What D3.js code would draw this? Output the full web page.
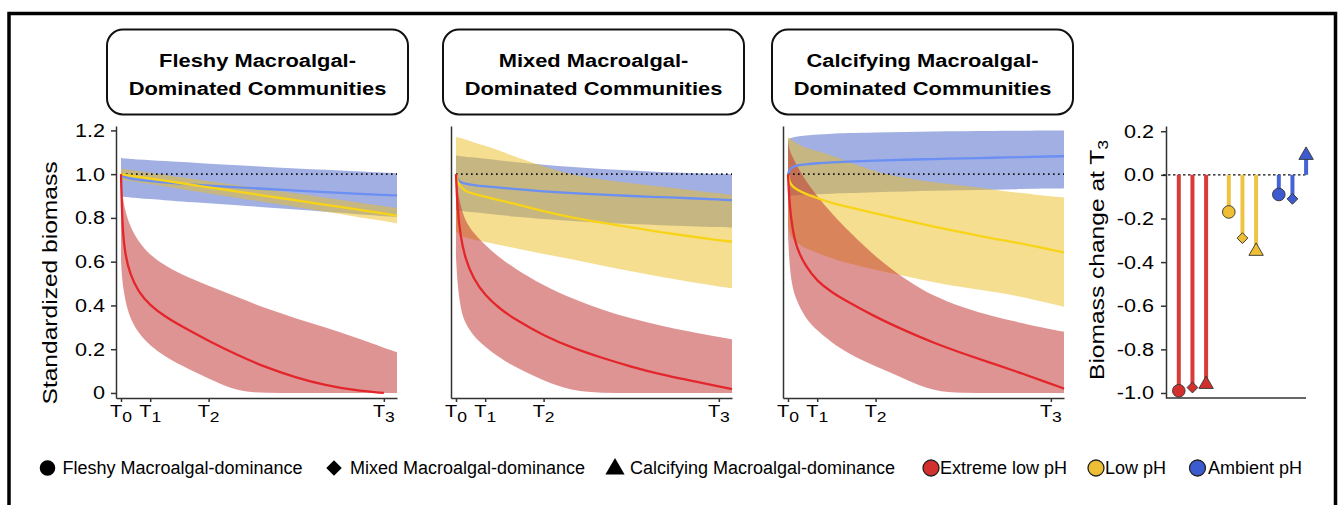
<!DOCTYPE html>
<html>
<head>
<meta charset="utf-8">
<script src="https://cdn.jsdelivr.net/npm/d3@7"></script>
<style>
  html, body { margin: 0; padding: 0; background: #fff; }
  svg { display: block; font-family: "Liberation Sans", Arial, Helvetica, sans-serif; }
</style>
</head>
<body>
<svg id="chart" width="1340" height="505"></svg>
<script>
// ---- time grid (T0 = 0, T1 = 1, T2 = 3, T3 = 9) ----
const TIME = [0, 0.05, 0.15, 0.3, 0.6, 1, 1.5, 2, 3, 4, 5, 6, 7, 8, 9, 9.45];
const T_TICKS = [0, 1, 3, 9];
const T_TICK_SUBS = ["0", "1", "2", "3"];
const Y_TICKS = [0, 0.2, 0.4, 0.6, 0.8, 1.0, 1.2];
const Y_TICK_LABELS = ["0", "0.2", "0.4", "0.6", "0.8", "1.0", "1.2"];
const CHANGE_TICKS = [0.2, 0, -0.2, -0.4, -0.6, -0.8, -1.0];
const CHANGE_TICK_LABELS = ["0.2", "0.0", "-0.2", "-0.4", "-0.6", "-0.8", "-1.0"];

const TREATMENTS = ["Extreme low pH", "Low pH", "Ambient pH"];
const COMMUNITIES = ["Fleshy Macroalgal-dominance", "Mixed Macroalgal-dominance", "Calcifying Macroalgal-dominance"];
const PANEL_TITLES = [
  ["Fleshy Macroalgal-", "Dominated Communities"],
  ["Mixed Macroalgal-", "Dominated Communities"],
  ["Calcifying Macroalgal-", "Dominated Communities"]
];

// ---- standardized biomass: fitted mean and confidence band ----
// Fleshy macroalgal-dominated communities
const FLESHY_EXT_MEAN = [1.0, 0.74, 0.63, 0.545, 0.46, 0.40, 0.35, 0.31, 0.238, 0.172, 0.115, 0.07, 0.035, 0.012, 0.0, null];
const FLESHY_EXT_LO   = [0.6, 0.5, 0.42, 0.345, 0.272, 0.215, 0.168, 0.13, 0.065, 0.005, 0, 0, 0, 0, 0, 0];
const FLESHY_EXT_HI   = [1.0, 0.9, 0.83, 0.765, 0.69, 0.63, 0.583, 0.545, 0.49, 0.437, 0.384, 0.34, 0.30, 0.255, 0.207, 0.186];
const FLESHY_LOW_MEAN = [1.0, 0.999, 0.997, 0.994, 0.988, 0.98, 0.97, 0.96, 0.94, 0.92, 0.9, 0.88, 0.86, 0.84, 0.82, 0.81];
const FLESHY_LOW_LO   = [0.975, 0.974, 0.972, 0.969, 0.962, 0.954, 0.943, 0.933, 0.912, 0.891, 0.87, 0.849, 0.828, 0.807, 0.786, 0.775];
const FLESHY_LOW_HI   = [1.025, 1.024, 1.022, 1.02, 1.014, 1.006, 0.996, 0.987, 0.968, 0.949, 0.93, 0.911, 0.892, 0.873, 0.854, 0.845];
const FLESHY_AMB_MEAN = [1.0, 0.99, 0.985, 0.98, 0.975, 0.968, 0.962, 0.956, 0.947, 0.94, 0.932, 0.925, 0.918, 0.911, 0.905, 0.903];
const FLESHY_AMB_LO   = [0.9, 0.898, 0.896, 0.894, 0.89, 0.886, 0.881, 0.876, 0.867, 0.858, 0.848, 0.838, 0.828, 0.818, 0.808, 0.805];
const FLESHY_AMB_HI   = [1.075, 1.073, 1.071, 1.07, 1.067, 1.064, 1.06, 1.056, 1.048, 1.04, 1.033, 1.026, 1.02, 1.013, 1.007, 1.005];

// Mixed macroalgal-dominated communities
const MIXED_EXT_MEAN = [1.0, 0.84, 0.72, 0.62, 0.52, 0.445, 0.385, 0.338, 0.262, 0.205, 0.16, 0.12, 0.085, 0.058, 0.03, 0.018];
const MIXED_EXT_LO   = [0.62, 0.5, 0.39, 0.32, 0.26, 0.21, 0.16, 0.12, 0.055, 0.008, 0, 0, 0, 0, 0, 0];
const MIXED_EXT_HI   = [1.0, 0.93, 0.86, 0.79, 0.73, 0.675, 0.617, 0.57, 0.49, 0.43, 0.38, 0.34, 0.307, 0.28, 0.255, 0.245];
const MIXED_LOW_MEAN = [1.0, 0.963, 0.945, 0.922, 0.91, 0.896, 0.88, 0.865, 0.83, 0.8, 0.778, 0.757, 0.735, 0.716, 0.698, 0.691];
const MIXED_LOW_LO   = [0.74, 0.73, 0.72, 0.71, 0.7, 0.69, 0.676, 0.662, 0.635, 0.61, 0.582, 0.556, 0.53, 0.508, 0.487, 0.478];
const MIXED_LOW_HI   = [1.17, 1.168, 1.165, 1.16, 1.145, 1.13, 1.108, 1.08, 1.035, 0.995, 0.975, 0.958, 0.943, 0.928, 0.912, 0.904];
const MIXED_AMB_MEAN = [1.0, 0.975, 0.963, 0.957, 0.95, 0.944, 0.938, 0.932, 0.921, 0.913, 0.906, 0.9, 0.895, 0.89, 0.884, 0.881];
const MIXED_AMB_LO   = [0.836, 0.835, 0.833, 0.83, 0.826, 0.82, 0.813, 0.806, 0.795, 0.786, 0.778, 0.772, 0.767, 0.762, 0.758, 0.756];
const MIXED_AMB_HI   = [1.085, 1.084, 1.082, 1.08, 1.076, 1.07, 1.063, 1.055, 1.043, 1.032, 1.024, 1.016, 1.01, 1.005, 1.001, 1.0];

// Calcifying macroalgal-dominated communities
const CALC_EXT_MEAN = [1.0, 0.86, 0.75, 0.66, 0.58, 0.51, 0.46, 0.42, 0.347, 0.285, 0.228, 0.18, 0.135, 0.09, 0.042, 0.02];
const CALC_EXT_LO   = [0.72, 0.58, 0.48, 0.42, 0.34, 0.285, 0.23, 0.185, 0.12, 0.065, 0.005, 0, 0, 0, 0, 0];
const CALC_EXT_HI   = [1.15, 1.11, 1.08, 1.04, 0.97, 0.9, 0.82, 0.75, 0.62, 0.52, 0.44, 0.39, 0.35, 0.32, 0.29, 0.28];
const CALC_LOW_MEAN = [1.0, 0.963, 0.945, 0.93, 0.91, 0.89, 0.868, 0.852, 0.82, 0.79, 0.76, 0.733, 0.706, 0.683, 0.654, 0.643];
const CALC_LOW_LO   = [0.76, 0.73, 0.705, 0.685, 0.66, 0.64, 0.615, 0.595, 0.562, 0.535, 0.505, 0.482, 0.463, 0.44, 0.408, 0.394];
const CALC_LOW_HI   = [1.17, 1.165, 1.155, 1.14, 1.12, 1.105, 1.085, 1.06, 1.01, 0.982, 0.962, 0.948, 0.93, 0.913, 0.898, 0.893];
const CALC_AMB_MEAN = [1.0, 1.02, 1.032, 1.04, 1.045, 1.05, 1.054, 1.057, 1.062, 1.066, 1.069, 1.072, 1.075, 1.078, 1.081, 1.082];
const CALC_AMB_LO   = [0.9, 0.9, 0.902, 0.904, 0.906, 0.908, 0.911, 0.913, 0.918, 0.921, 0.924, 0.927, 0.929, 0.932, 0.934, 0.935];
const CALC_AMB_HI   = [1.16, 1.163, 1.167, 1.172, 1.177, 1.181, 1.185, 1.188, 1.191, 1.193, 1.195, 1.196, 1.197, 1.198, 1.199, 1.2];

// ---- biomass change at T3 (fleshy, mixed, calcifying) ----
const CHANGE_EXTREME = [-0.99, -0.975, -0.96];
const CHANGE_LOW = [-0.17, -0.29, -0.35];
const CHANGE_AMBIENT = [-0.09, -0.11, 0.09];

// ---- styling ----
const RIBBON = { "Extreme low pH": "#c02a2a", "Low pH": "#ecbd1f", "Ambient pH": "#4460c8" };
const LINE = { "Extreme low pH": "#e3262b", "Low pH": "#f7d417", "Ambient pH": "#6b8ff2" };
const POINT = { "Extreme low pH": "#d42f2f", "Low pH": "#eebf35", "Ambient pH": "#3d5bd0" };
const STEM = { "Extreme low pH": "#d93a3a", "Low pH": "#efc443", "Ambient pH": "#4563d4" };
const SHAPES = [d3.symbolCircle, d3.symbolSquare, d3.symbolTriangle];
const SX = 1.17;            // glyph width factor for figure text
const AXIS_COLOR = "#333";

const panels = [
  { title: PANEL_TITLES[0], series: [
    { t: "Ambient pH", mean: FLESHY_AMB_MEAN, lo: FLESHY_AMB_LO, hi: FLESHY_AMB_HI },
    { t: "Low pH", mean: FLESHY_LOW_MEAN, lo: FLESHY_LOW_LO, hi: FLESHY_LOW_HI },
    { t: "Extreme low pH", mean: FLESHY_EXT_MEAN, lo: FLESHY_EXT_LO, hi: FLESHY_EXT_HI } ] },
  { title: PANEL_TITLES[1], series: [
    { t: "Ambient pH", mean: MIXED_AMB_MEAN, lo: MIXED_AMB_LO, hi: MIXED_AMB_HI },
    { t: "Low pH", mean: MIXED_LOW_MEAN, lo: MIXED_LOW_LO, hi: MIXED_LOW_HI },
    { t: "Extreme low pH", mean: MIXED_EXT_MEAN, lo: MIXED_EXT_LO, hi: MIXED_EXT_HI } ] },
  { title: PANEL_TITLES[2], series: [
    { t: "Ambient pH", mean: CALC_AMB_MEAN, lo: CALC_AMB_LO, hi: CALC_AMB_HI },
    { t: "Low pH", mean: CALC_LOW_MEAN, lo: CALC_LOW_LO, hi: CALC_LOW_HI },
    { t: "Extreme low pH", mean: CALC_EXT_MEAN, lo: CALC_EXT_LO, hi: CALC_EXT_HI } ] }
];

const svg = d3.select("#chart");

// outer frame
svg.append("rect")
  .attr("x", 9).attr("y", 13.5).attr("width", 1326.5).attr("height", 600)
  .attr("fill", "none").attr("stroke", "#000").attr("stroke-width", 3.5);

// text helper: places a label and widens glyphs along the reading direction
function txt(g, x, y, str, o = {}) {
  return g.append("text")
    .attr("transform", `translate(${x},${y})${o.rotate ? ` rotate(${o.rotate})` : ""} scale(${o.sx ?? SX},1)`)
    .attr("text-anchor", o.anchor || "middle")
    .attr("font-size", o.size || 18)
    .attr("font-weight", o.weight || "normal")
    .attr("fill", "#000")
    .text(str);
}

const PANEL_LEFT = [116, 451, 783];
const PANEL_W = 281;
const PLOT_TOP = 126, PLOT_BOTTOM = 398;
const BOX_X = [107, 443, 772];
const BOX_W = 301;

const y = d3.scaleLinear().domain([-0.023, 1.22]).range([PLOT_BOTTOM, PLOT_TOP]);

panels.forEach((p, pi) => {
  const L = PANEL_LEFT[pi];
  const x = d3.scaleLinear().domain([-0.171, 9.45]).range([L, L + PANEL_W]);
  const g = svg.append("g");

  // title box
  g.append("rect")
    .attr("x", BOX_X[pi]).attr("y", 29.5).attr("width", BOX_W).attr("height", 85)
    .attr("rx", 16).attr("ry", 16)
    .attr("fill", "#fff").attr("stroke", "#111").attr("stroke-width", 2);
  const cx = BOX_X[pi] + BOX_W / 2;
  txt(g, cx, 67, p.title[0], { size: 18.7, weight: "bold" });
  txt(g, cx, 94.5, p.title[1], { size: 18.7, weight: "bold" });

  // confidence ribbons
  p.series.forEach(s => {
    const area = d3.area()
      .x((d, i) => x(TIME[i]))
      .y0((d, i) => y(s.lo[i]))
      .y1((d, i) => y(s.hi[i]))
      .curve(d3.curveBasis);
    g.append("path").datum(TIME).attr("d", area)
      .attr("fill", RIBBON[s.t]).attr("fill-opacity", 0.5);
  });

  // reference line at standardized biomass of 1
  g.append("line")
    .attr("x1", x(0)).attr("x2", x(9.45)).attr("y1", y(1)).attr("y2", y(1))
    .attr("stroke", "#111").attr("stroke-width", 1.6).attr("stroke-dasharray", "1.6,3.4");

  // fitted mean lines
  p.series.forEach(s => {
    const line = d3.line()
      .defined((d, i) => s.mean[i] != null)
      .x((d, i) => x(TIME[i]))
      .y((d, i) => y(s.mean[i]))
      .curve(d3.curveBasis);
    g.append("path").datum(TIME).attr("d", line)
      .attr("fill", "none").attr("stroke", LINE[s.t]).attr("stroke-width", 2.3);
  });

  // axes
  const xa = g.append("g").attr("transform", `translate(0,${PLOT_BOTTOM})`)
    .call(d3.axisBottom(x).tickValues(T_TICKS).tickSize(4).tickSizeOuter(0).tickFormat(() => ""));
  xa.selectAll("path,line").attr("stroke", AXIS_COLOR).attr("stroke-width", 1.5);
  T_TICKS.forEach((tv, i) => {
    const t = txt(g, x(tv), 417, "T", { size: 17 });
    t.append("tspan").attr("font-size", 15).attr("dy", 5).text(T_TICK_SUBS[i]);
  });

  const ya = g.append("g").attr("transform", `translate(${L},0)`)
    .call(d3.axisLeft(y).tickValues(pi === 0 ? Y_TICKS : []).tickSize(5).tickSizeOuter(0).tickFormat(() => ""));
  ya.selectAll("path,line").attr("stroke", AXIS_COLOR).attr("stroke-width", 1.5);
  if (pi === 0) {
    Y_TICKS.forEach((v, i) => txt(g, L - 11, y(v) + 6.5, Y_TICK_LABELS[i], { size: 18.5, anchor: "end" }));
    txt(g, 57, 283, "Standardized biomass", { size: 21, rotate: -90 });
  }
});

// ---- biomass change at T3 ----
const RL = 1166, RR = 1306;
const yc = d3.scaleLinear().domain([-1.023, 0.224]).range([PLOT_BOTTOM, PLOT_TOP]);
const xg = d3.scalePoint().domain(TREATMENTS).range([1192.3, 1292.3]);
const xi = d3.scalePoint().domain(COMMUNITIES).range([-13.5, 13.8]);
const gr = svg.append("g");

const changeRows = [];
[CHANGE_EXTREME, CHANGE_LOW, CHANGE_AMBIENT].forEach((vals, ti) =>
  vals.forEach((v, ci) => changeRows.push({ t: TREATMENTS[ti], c: COMMUNITIES[ci], ci, v })));

const rya = gr.append("g").attr("transform", `translate(${RL},0)`)
  .call(d3.axisLeft(yc).tickValues(CHANGE_TICKS).tickSize(5).tickSizeOuter(0).tickFormat(() => ""));
rya.selectAll("path,line").attr("stroke", AXIS_COLOR).attr("stroke-width", 1.5);
CHANGE_TICKS.forEach((v, i) => txt(gr, RL - 12, yc(v) + 6.5, CHANGE_TICK_LABELS[i], { size: 18.5, anchor: "end" }));
gr.append("line").attr("x1", RL).attr("x2", RR).attr("y1", PLOT_BOTTOM).attr("y2", PLOT_BOTTOM)
  .attr("stroke", AXIS_COLOR).attr("stroke-width", 1.5);

const yl = txt(gr, 1104, 260, "Biomass change at T", { size: 21, rotate: -90 });
yl.append("tspan").attr("font-size", 15).attr("dy", 4).text("3");

gr.append("line").attr("x1", RL - 3).attr("x2", RR + 1).attr("y1", yc(0)).attr("y2", yc(0))
  .attr("stroke", "#111").attr("stroke-width", 1.4).attr("stroke-dasharray", "2.5,2.5");

const px = d => xg(d.t) + xi(d.c);
gr.selectAll("line.stem").data(changeRows).join("line")
  .attr("x1", px).attr("x2", px).attr("y1", yc(0)).attr("y2", d => yc(d.v))
  .attr("stroke", d => STEM[d.t]).attr("stroke-width", 4);

const SIZES = [125, 58, 90];
gr.selectAll("path.pt").data(changeRows).join("path")
  .attr("d", d => d3.symbol().type(SHAPES[d.ci]).size(SIZES[d.ci])())
  .attr("transform", d => `translate(${px(d)},${yc(d.v)})${d.ci === 1 ? " rotate(45)" : ""}`)
  .attr("fill", d => POINT[d.t]).attr("stroke", "#333").attr("stroke-width", 0.9);

// ---- legend ----
const lg = svg.append("g");
const LEG_Y = 468;
const shapeX = [47.5, 334, 615];
const shapeTxt = [62.5, 350, 630];
const LEG_SIZES = [190, 120, 160];
COMMUNITIES.forEach((c, i) => {
  lg.append("path")
    .attr("d", d3.symbol().type(SHAPES[i]).size(LEG_SIZES[i])())
    .attr("transform", `translate(${shapeX[i]},${LEG_Y + (i === 2 ? 1 : 0)})${i === 1 ? " rotate(45)" : ""}`)
    .attr("fill", "#000");
  txt(lg, shapeTxt[i], LEG_Y + 6.3, c, { size: 18, anchor: "start", sx: 1 });
});
const colX = [931, 1096, 1197.5];
const colTxt = [940, 1105, 1208];
TREATMENTS.forEach((t, i) => {
  lg.append("circle").attr("cx", colX[i]).attr("cy", LEG_Y).attr("r", 8)
    .attr("fill", POINT[t]).attr("stroke", "#222").attr("stroke-width", 1.3);
  txt(lg, colTxt[i], LEG_Y + 6.3, t, { size: 18, anchor: "start", sx: 1 });
});
</script>
</body>
</html>
